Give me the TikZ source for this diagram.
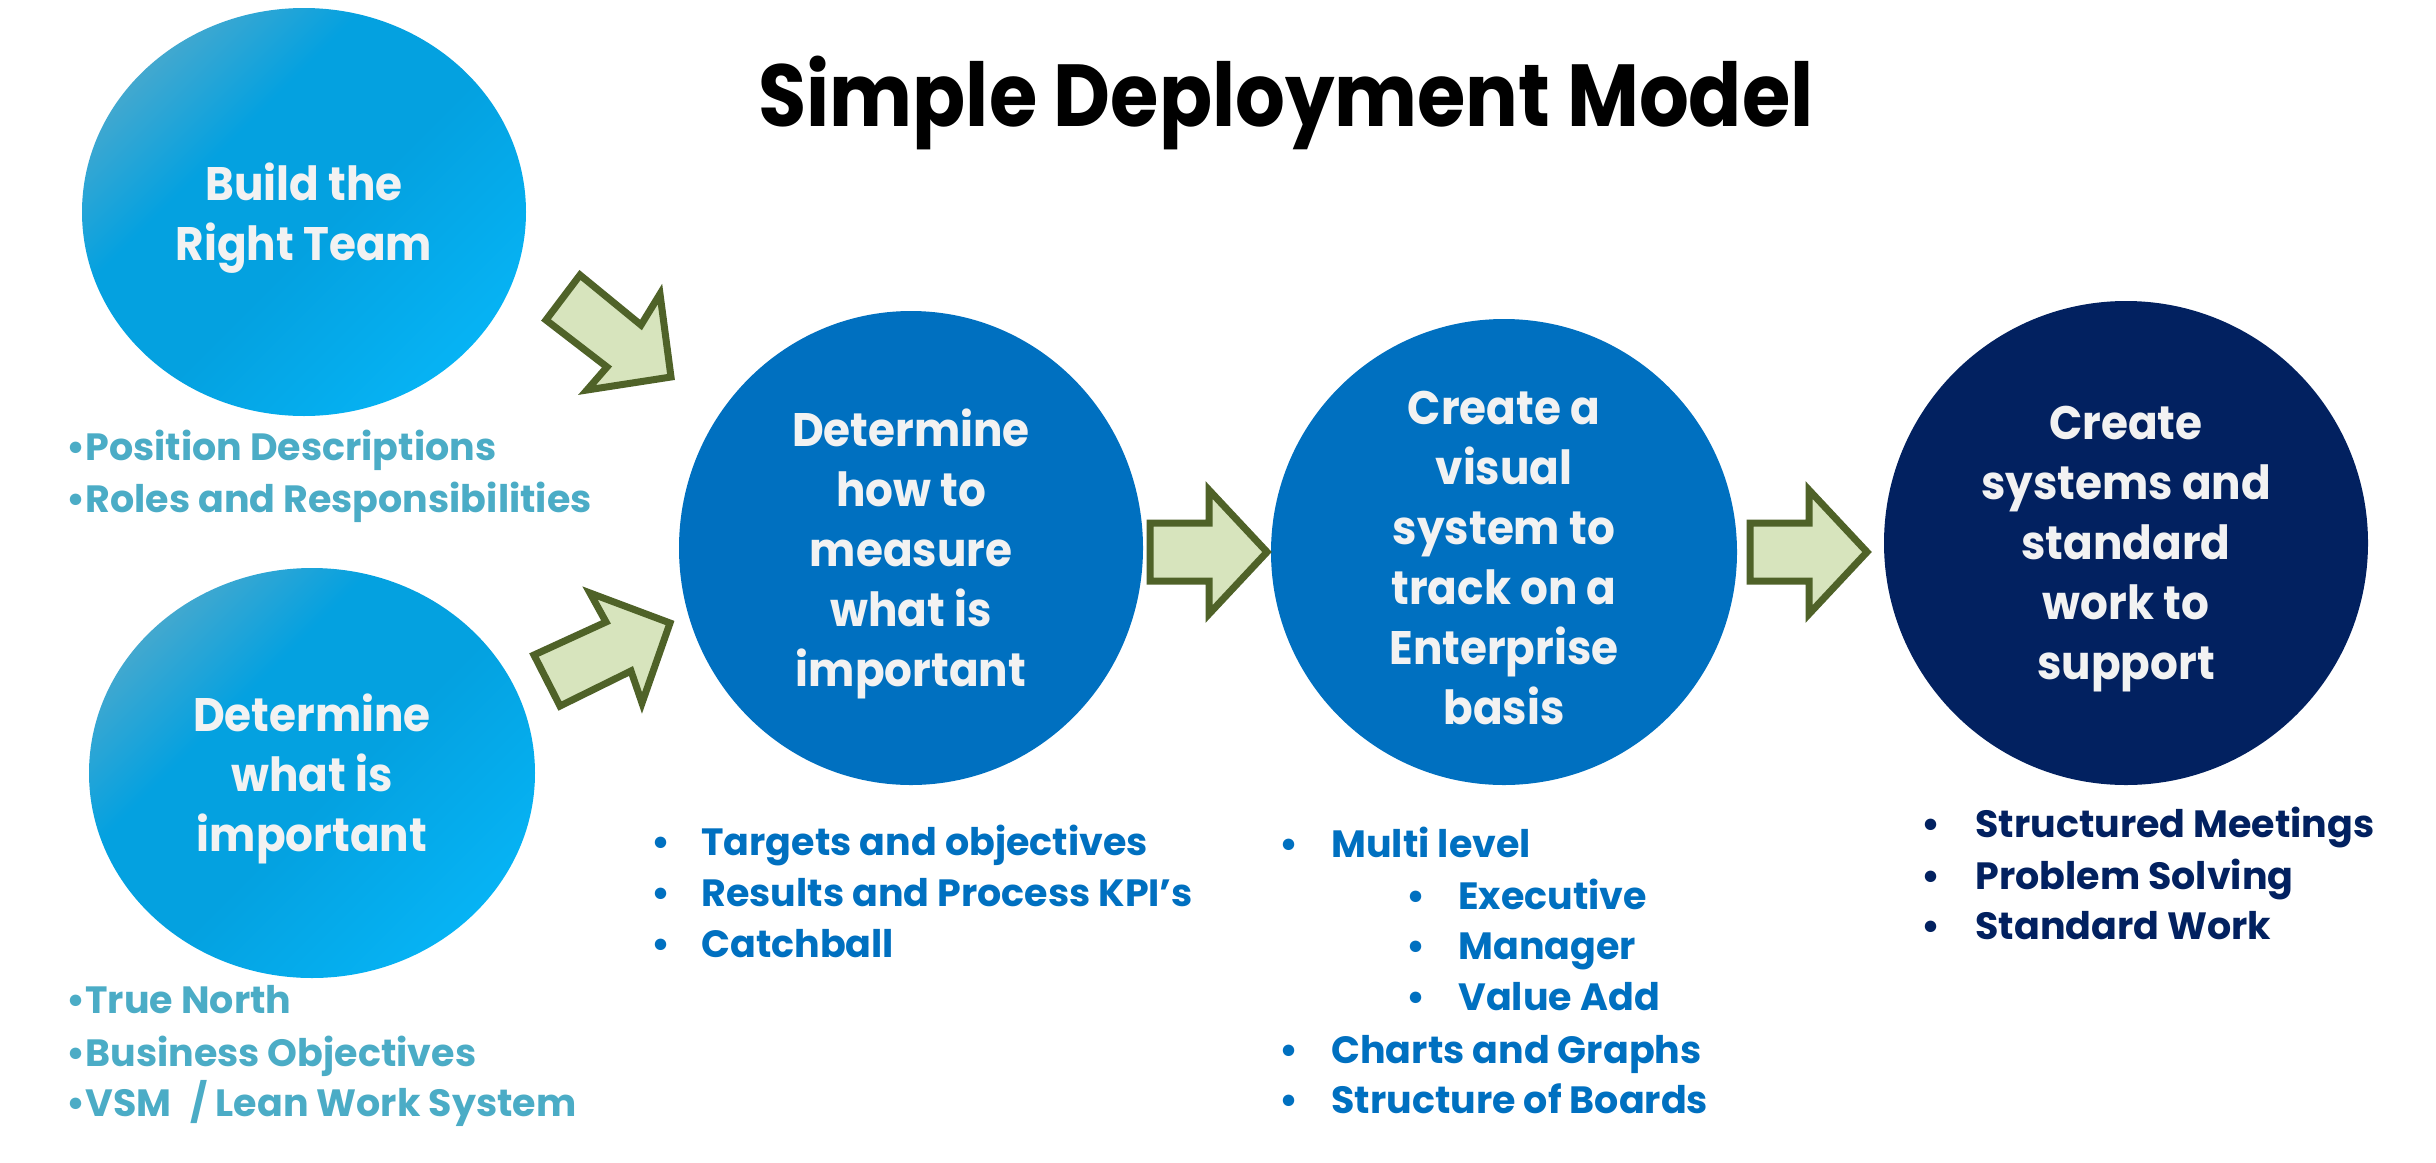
\documentclass[tikz,border=0pt]{standalone}
\usepackage{fontspec}
\setmainfont{Poppins}
\usetikzlibrary{shapes.geometric}
\definecolor{bubA}{HTML}{42A8CF}
\definecolor{bubM}{HTML}{04A1E0}
\definecolor{bubB}{HTML}{06B3F4}
\definecolor{midblue}{HTML}{0070C0}
\definecolor{navy}{HTML}{022160}
\definecolor{circtext}{HTML}{F2F2F2}
\definecolor{arrfill}{HTML}{D7E4BD}
\definecolor{arrdraw}{HTML}{4F6228}
\definecolor{listteal}{HTML}{4BACC6}
\pgfdeclareverticalshading{bubshade}{100bp}{color(0bp)=(bubB); color(25bp)=(bubB); color(47bp)=(bubM); color(62bp)=(bubM); color(75bp)=(bubA); color(100bp)=(bubA)}
\begin{document}
\begin{tikzpicture}[x=0.5pt,y=-0.5pt,
  bubble/.style={ellipse, inner sep=0pt, draw=none},
  gradbubble/.style={bubble, shading=bubshade, shading angle=45},
  ctext/.style={text=circtext, align=center, inner sep=0pt, yshift=-3pt, transform shape, xscale=0.93, font=\fontsize{23.5}{30}\selectfont\bfseries},
  blockarr/.style={fill=arrfill, draw=arrdraw, line width=3.5pt, line join=miter},
  ltext/.style={anchor=base west, inner sep=0pt, font=\fontsize{19}{25}\selectfont\bfseries},
  lone/.style={ltext, text=listteal},
  lmid/.style={ltext, text=midblue},
  lnavy/.style={ltext, text=navy},
  ]
\useasboundingbox (0,0) rectangle (2436,1162);
\fill[white] (0,0) rectangle (2436,1162);

% title
\node[anchor=base, inner sep=0pt, transform shape, xscale=0.89, font=\fontsize{44}{52}\selectfont\bfseries] (title) at (1286,126) {Simple Deployment Model};

% bubbles
\node[gradbubble, minimum width=222pt, minimum height=204pt] (c1) at (304,212) {};
\node[gradbubble, minimum width=223pt, minimum height=205pt] (c2) at (312,773) {};
\node[bubble, fill=midblue, minimum width=232pt, minimum height=237pt] (c3) at (911,548) {};
\node[bubble, fill=midblue, minimum width=233pt, minimum height=233pt] (c4) at (1504,552) {};
\node[bubble, fill=navy, minimum width=242pt, minimum height=242pt] (c5) at (2126,543) {};

\node[ctext] (t1) at (c1) {Build the\\Right Team};
\node[ctext] (t2) at (c2) {Determine\\what is\\important};
\node[ctext] (t3) at (c3) {Determine\\how to\\measure\\what is\\important};
\node[ctext] (t4) at (c4) {Create a\\visual\\system to\\track on a\\Enterprise\\basis};
\node[ctext] (t5) at (c5) {Create\\systems and\\standard\\work to\\support};

% block arrows
\draw[blockarr] (580,275) -- (641,325) -- (660,294) -- (671,377) -- (587,390) -- (607,367) -- (546,320) -- cycle;
\draw[blockarr] (534,655) -- (606,622) -- (590,593) -- (670,623) -- (642,703) -- (631,671) -- (560,706) -- cycle;
\draw[blockarr] (1150,523) -- (1209,523) -- (1209,490) -- (1267,552) -- (1209,614) -- (1209,581) -- (1150,581) -- cycle;
\draw[blockarr] (1750,523) -- (1809,523) -- (1809,490) -- (1867,552) -- (1809,614) -- (1809,581) -- (1750,581) -- cycle;

% list 1
\node[lone] (l1a) at (66,460) {•Position Descriptions};
\node[lone] (l1b) at (66,512) {•Roles and Responsibilities};
% list 2
\node[lone] (l2a) at (66,1013) {•True North};
\node[lone] (l2b) at (66,1066) {•Business Objectives};
\node[lone] (l2c) at (66,1116) {•VSM\hspace{0.5em}/ Lean Work System};
% list 3
\node[lmid] (l3a) at (651,855) {\makebox[25pt][l]{•}Targets and objectives};
\node[lmid] (l3b) at (651,906) {\makebox[25pt][l]{•}Results and Process KPI’s};
\node[lmid] (l3c) at (651,957) {\makebox[25pt][l]{•}Catchball};
% list 4
\node[lmid] (l4a) at (1279,857) {\makebox[26pt][l]{•}Multi level};
\node[lmid] (l4b) at (1406,909) {\makebox[26pt][l]{•}Executive};
\node[lmid] (l4c) at (1406,959) {\makebox[26pt][l]{•}Manager};
\node[lmid] (l4d) at (1406,1010) {\makebox[26pt][l]{•}Value Add};
\node[lmid] (l4e) at (1279,1063) {\makebox[26pt][l]{•}Charts and Graphs};
\node[lmid] (l4f) at (1279,1113) {\makebox[26pt][l]{•}Structure of Boards};
% list 5
\node[lnavy] (l5a) at (1921,837) {\makebox[27pt][l]{•}Structured Meetings};
\node[lnavy] (l5b) at (1921,889) {\makebox[27pt][l]{•}Problem Solving};
\node[lnavy] (l5c) at (1921,939) {\makebox[27pt][l]{•}Standard Work};
\end{tikzpicture}
\end{document}
